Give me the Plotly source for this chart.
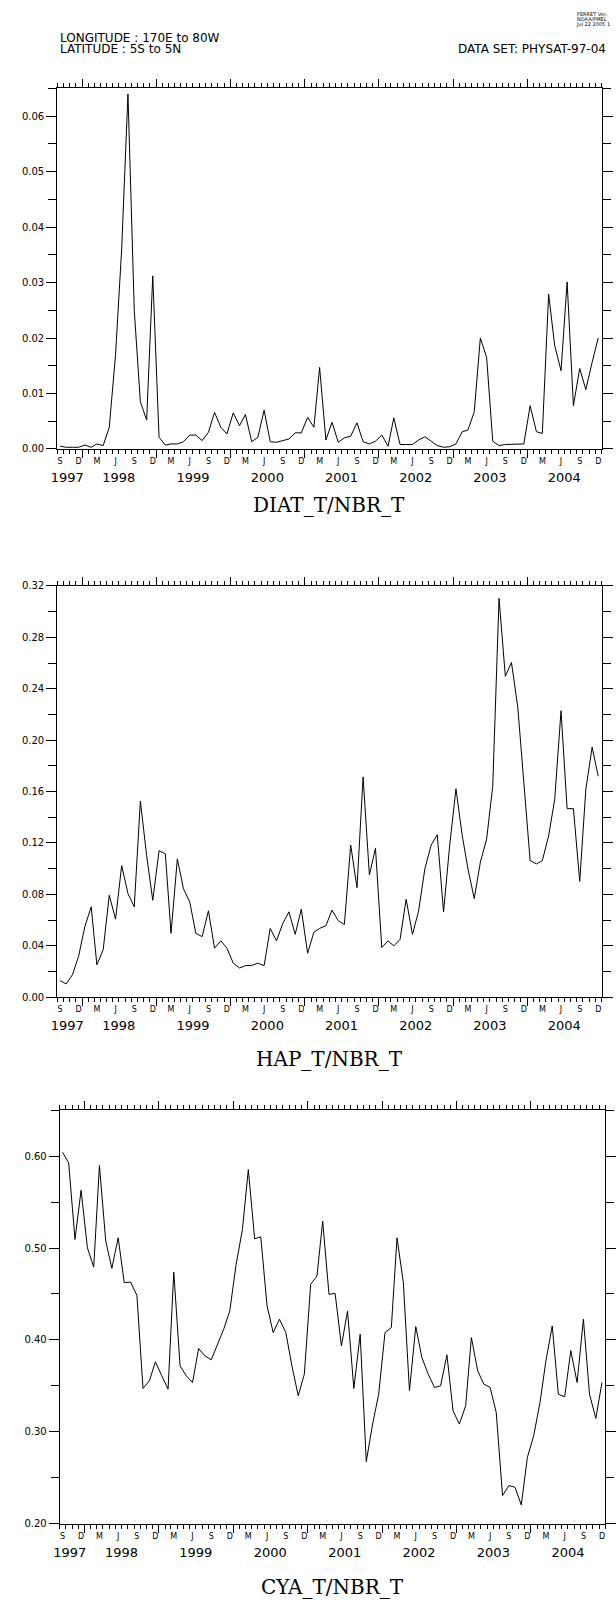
import plotly.graph_objects as go
import pandas as pd

# ---------------- data ----------------
start_month = "1997-09-01"
n_months = 88

diat = [0.0005, 0.0003, 0.0003, 0.0003, 0.0007, 0.0003, 0.0009, 0.0006, 0.0039, 0.017,
        0.036, 0.064, 0.025, 0.0085, 0.0052, 0.0312, 0.0021, 0.0007, 0.0009, 0.0009,
        0.0013, 0.0025, 0.0025, 0.0015, 0.0030, 0.0066, 0.0039, 0.0027, 0.0065, 0.0042,
        0.0062, 0.0013, 0.0021, 0.0070, 0.0013, 0.0012, 0.0015, 0.0018, 0.0029, 0.0029,
        0.0057, 0.0039, 0.0147, 0.0016, 0.0048, 0.0012, 0.0020, 0.0023, 0.0047, 0.0013,
        0.0009, 0.0014, 0.0025, 0.0005, 0.0056, 0.0008, 0.0008, 0.0008, 0.0016, 0.0022,
        0.0014, 0.0006, 0.0003, 0.0004, 0.0009, 0.0031, 0.0034, 0.0067, 0.0200, 0.0165,
        0.0014, 0.0006, 0.0008, 0.0008, 0.0008, 0.0009, 0.0078, 0.0031, 0.0028, 0.0279,
        0.0186, 0.0141, 0.0301, 0.0078, 0.0145, 0.0107, 0.0156, 0.0200]

hap = [0.0129, 0.0103, 0.0175, 0.0317, 0.055, 0.0703, 0.0252, 0.0368, 0.0793, 0.0607,
       0.1024, 0.0806, 0.0703, 0.1526, 0.110, 0.0754, 0.114, 0.1115, 0.0497, 0.1076,
       0.0844, 0.0741, 0.0497, 0.0471, 0.0672, 0.0381, 0.0438, 0.0381, 0.0265, 0.0227,
       0.0245, 0.0247, 0.0265, 0.0245, 0.0535, 0.0438, 0.0574, 0.0664, 0.0489, 0.0685,
       0.0342, 0.0505, 0.0535, 0.0556, 0.0677, 0.0595, 0.0566, 0.1184, 0.0852, 0.1714,
       0.0952, 0.1158, 0.0386, 0.0438, 0.0399, 0.0450, 0.0762, 0.0489, 0.0669, 0.0999,
       0.1184, 0.1264, 0.0664, 0.118, 0.1622, 0.1256, 0.0999, 0.0767, 0.105, 0.123,
       0.1642, 0.3104, 0.2497, 0.2605, 0.226, 0.1668, 0.1063, 0.1037, 0.1063, 0.1256,
       0.154, 0.2229, 0.1467, 0.1467, 0.0901, 0.1616, 0.1946, 0.1719]

cya = [0.6043, 0.5928, 0.5094, 0.563, 0.5004, 0.4793, 0.5899, 0.5076, 0.4779, 0.5112,
       0.4623, 0.463, 0.4486, 0.3471, 0.3554, 0.3761, 0.3609, 0.3464, 0.4739, 0.3717,
       0.3609, 0.3536, 0.3906, 0.3826, 0.3783, 0.3953, 0.4116, 0.4315, 0.4822, 0.5203,
       0.5855, 0.5101, 0.5123, 0.437, 0.408, 0.4225, 0.408, 0.3717, 0.3391, 0.3627,
       0.4605, 0.4696, 0.5293, 0.4496, 0.4507, 0.3935, 0.4315, 0.3471, 0.4062, 0.2674,
       0.3083, 0.3409, 0.408, 0.4134, 0.5112, 0.4623, 0.3446, 0.4145, 0.3808, 0.3627,
       0.3482, 0.35, 0.3837, 0.3228, 0.3083, 0.3283, 0.4025, 0.3663, 0.3518, 0.3482,
       0.321, 0.2304, 0.2413, 0.2395, 0.2203, 0.2721, 0.2957, 0.3319, 0.3772, 0.4152,
       0.3409, 0.338, 0.3884, 0.3536, 0.4225, 0.3409, 0.3145, 0.3536]

series_names = ["DIAT_T/NBR_T", "HAP_T/NBR_T", "CYA_T/NBR_T"]
month_letters = {3: "M", 6: "J", 9: "S", 12: "D"}
year_labels = ["1997", "1998", "1999", "2000", "2001", "2002", "2003", "2004"]
year_label_dates = ["1997-10-20", "1998-07-01", "1999-07-01", "2000-07-01",
                    "2001-07-01", "2002-07-01", "2003-07-01", "2004-07-01"]
year_tick_dates = ["1998-01-01", "1999-01-01", "2000-01-01", "2001-01-01",
                   "2002-01-01", "2003-01-01", "2004-01-01"]
y_ranges = [[0.0, 0.065], [0.0, 0.32], [0.20, 0.65]]
y_dticks = [0.01, 0.04, 0.1]
x_range = ["1997-09-01", "2005-01-01"]

header_left = ["LONGITUDE : 170E to 80W", "LATITUDE : 5S to 5N"]
header_right = "DATA SET: PHYSAT-97-04"
ferret_lines = ["FERRET Ver.", "NOAA/PMEL", "Jul 22 2005 1"]

# ---------------- layout geometry (pixels) ----------------
W, H = 616, 1604
geom = [  # left, right, top, bottom, title centre y
    (52, 604.5, 84, 447, 503),
    (52, 604.5, 585, 999, 1061),
    (54.5, 608.3, 1113, 1529, 1593),
]

dates = pd.date_range(start_month, periods=n_months, freq="MS") + pd.Timedelta(days=14)
label_dates = pd.date_range(start_month, "2004-12-01", freq="3MS") + pd.Timedelta(days=14)
label_text = [month_letters[d.month] for d in label_dates]

SANS = "DejaVu Sans"
SERIF = "DejaVu Serif"


def px_x(p):
    return p / W


def px_y(p):
    return 1 - p / H


fig = go.Figure()
layout = dict(width=W, height=H, margin=dict(l=0, r=0, t=0, b=0),
              paper_bgcolor="white", plot_bgcolor="white", showlegend=False)
annotations = []

series = [diat, hap, cya]
for k, (vals, (l, r, t, b, ty), yr, dt, name) in enumerate(
        zip(series, geom, y_ranges, y_dticks, series_names), start=1):
    xname = "x" if k == 1 else f"x{k}"
    yname = "y" if k == 1 else f"y{k}"
    xkey = "xaxis" if k == 1 else f"xaxis{k}"
    ykey = "yaxis" if k == 1 else f"yaxis{k}"
    fig.add_trace(go.Scatter(x=dates, y=vals, mode="lines",
                             line=dict(color="black", width=1),
                             xaxis=xname, yaxis=yname, hoverinfo="skip"))
    for extra in (k + 3, k + 6):
        fig.add_trace(go.Scatter(x=dates, y=vals, mode="lines", opacity=0,
                                 line=dict(width=0),
                                 xaxis=f"x{extra}", yaxis=yname, hoverinfo="skip"))
    dom_x = [px_x(l), px_x(r)]
    dom_y = [px_y(b), px_y(t)]
    layout[xkey] = dict(
        domain=dom_x, anchor=yname, type="date", range=x_range,
        tickmode="array", tickvals=year_tick_dates, showticklabels=False,
        ticks="outside", ticklen=8, tickcolor="black", tickwidth=1,
        showline=True, linecolor="black", linewidth=1, mirror="ticks",
        showgrid=False, zeroline=False,
        minor=dict(ticks="outside", ticklen=4, tickcolor="black", tickwidth=1,
                   dtick="M1", tick0=start_month, showgrid=False))
    layout[f"xaxis{k + 3}"] = dict(
        overlaying=xname, anchor=yname, type="date", range=x_range,
        tickmode="array", tickvals=list(label_dates), ticktext=label_text,
        ticks="", showline=False, showgrid=False, zeroline=False,
        ticklabelstandoff=6,
        tickfont=dict(family=SANS, size=8, color="black"))
    layout[f"xaxis{k + 6}"] = dict(
        overlaying=xname, anchor=yname, type="date", range=x_range,
        tickmode="array", tickvals=year_label_dates, ticktext=year_labels,
        ticks="", showline=False, showgrid=False, zeroline=False,
        ticklabelstandoff=19,
        tickfont=dict(family=SANS, size=13, color="black"))
    layout[ykey] = dict(
        domain=dom_y, anchor=xname, range=yr,
        tickmode="linear", tick0=yr[0], dtick=dt, tickformat=".2f",
        ticks="outside", ticklen=10, tickcolor="black", tickwidth=1,
        showline=True, linecolor="black", linewidth=1, mirror="ticks",
        showgrid=False, zeroline=False,
        tickfont=dict(family=SANS, size=10, color="black"),
        minor=dict(ticks="outside", ticklen=8, tickcolor="black", tickwidth=1,
                   tick0=yr[0], dtick=dt / 2, showgrid=False))
    annotations.append(dict(text=name, x=px_x((l + r) / 2), y=px_y(ty),
                            xref="paper", yref="paper", showarrow=False,
                            xanchor="center", yanchor="middle",
                            font=dict(family=SERIF, size=20, color="black")))

# header texts
for i, txt in enumerate(header_left):
    annotations.append(dict(text=txt, x=px_x(53), y=px_y(33 + 11 * i),
                            xref="paper", yref="paper", showarrow=False,
                            xanchor="left", yanchor="middle",
                            font=dict(family=SANS, size=12, color="black")))
annotations.append(dict(text=header_right, x=px_x(611), y=px_y(44),
                        xref="paper", yref="paper", showarrow=False,
                        xanchor="right", yanchor="middle",
                        font=dict(family=SANS, size=12, color="black")))
for i, txt in enumerate(ferret_lines):
    annotations.append(dict(text=txt, x=px_x(612 + (3 if i == 2 else 0)),
                            y=px_y(9 + 5 * i),
                            xref="paper", yref="paper", showarrow=False,
                            xanchor="right", yanchor="middle",
                            font=dict(family=SANS, size=5, color="black")))

layout["annotations"] = annotations
fig.update_layout(**layout)
fig.write_html("out.html",
               config={"displayModeBar": False, "staticPlot": True},
               post_script="document.body.style.margin='0';"
                           "document.body.style.overflow='hidden';")
